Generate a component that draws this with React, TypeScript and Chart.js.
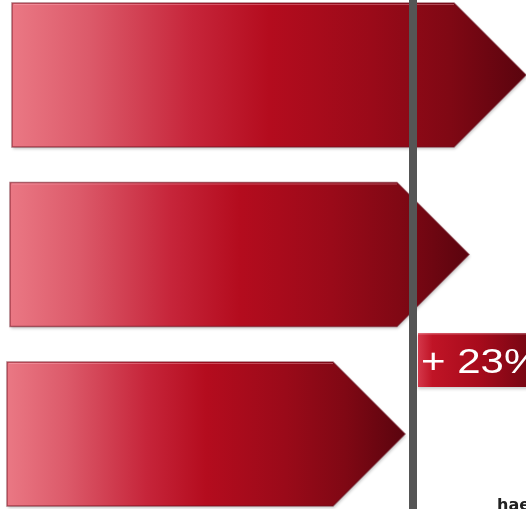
import React, { useEffect, useRef } from "react";
import { Chart, registerables } from "chart.js";

Chart.register(...registerables);

// ---- data ----
const categories = ["A", "B", "C"];
const barStarts = [12, 10, 7];
const barEnds = [526, 469, 405];
const referenceValue = 413;
const calloutLabel = "+ 23%";
const footnote = "hae";

const W = 526;
const H = 509;

function barGradient(ctx: CanvasRenderingContext2D, x0: number, x1: number) {
  const g = ctx.createLinearGradient(x0, 0, x1, 0);
  g.addColorStop(0, "#ea7884");
  g.addColorStop(0.15, "#dc5a6a");
  g.addColorStop(0.35, "#c6253a");
  g.addColorStop(0.5, "#b40c1e");
  g.addColorStop(0.7, "#9a0a19");
  g.addColorStop(0.85, "#800814");
  g.addColorStop(1, "#5a040e");
  return g;
}

const arrowPlugin = {
  id: "arrowBars",
  beforeDatasetsDraw(chart: any) {
    const ctx: CanvasRenderingContext2D = chart.ctx;
    const meta = chart.getDatasetMeta(0);
    meta.data.forEach((el: any) => {
      const half = el.height / 2;
      const top = el.y - half;
      const bot = el.y + half;
      const left = Math.min(el.base, el.x);
      const tip = Math.max(el.base, el.x);
      const neck = tip - half;
      ctx.save();
      ctx.beginPath();
      ctx.moveTo(left, top);
      ctx.lineTo(neck, top);
      ctx.lineTo(tip, el.y);
      ctx.lineTo(neck, bot);
      ctx.lineTo(left, bot);
      ctx.closePath();
      ctx.shadowColor = "rgba(0,0,0,0.22)";
      ctx.shadowBlur = 3;
      ctx.shadowOffsetX = 1;
      ctx.shadowOffsetY = 2;
      ctx.fillStyle = barGradient(ctx, left, tip);
      ctx.fill();
      ctx.shadowColor = "transparent";
      ctx.lineWidth = 1.5;
      ctx.strokeStyle = "rgba(110,15,30,0.55)";
      ctx.stroke();
      // top highlight
      ctx.beginPath();
      ctx.moveTo(left + 2, top + 1.5);
      ctx.lineTo(neck, top + 1.5);
      ctx.strokeStyle = "rgba(255,190,200,0.35)";
      ctx.lineWidth = 1;
      ctx.stroke();
      ctx.restore();
    });
  },
  afterDatasetsDraw(chart: any) {
    const ctx: CanvasRenderingContext2D = chart.ctx;
    const xs = chart.scales.x;
    const meta = chart.getDatasetMeta(0);
    const refX = xs.getPixelForValue(referenceValue);
    ctx.save();
    // reference line
    ctx.fillStyle = "#555555";
    ctx.fillRect(refX - 4, 0, 8, chart.height);

    // callout box
    const last = meta.data[meta.data.length - 1];
    const boxTop = last.y - last.height / 2 - 29;
    const boxH = 54;
    const boxX = refX + 5;
    const g = ctx.createLinearGradient(boxX, 0, boxX + 120, 0);
    g.addColorStop(0, "#d4374a");
    g.addColorStop(0.12, "#c01426");
    g.addColorStop(0.5, "#a80b1c");
    g.addColorStop(1, "#6e0511");
    ctx.shadowColor = "rgba(0,0,0,0.2)";
    ctx.shadowBlur = 3;
    ctx.shadowOffsetY = 2;
    ctx.fillStyle = g;
    ctx.fillRect(boxX, boxTop, 130, boxH);
    ctx.shadowColor = "transparent";
    ctx.fillStyle = "rgba(255,200,210,0.35)";
    ctx.fillRect(boxX, boxTop, 130, 1.5);

    ctx.save();
    ctx.translate(boxX + 3, boxTop + 40);
    ctx.scale(1.2, 1);
    ctx.fillStyle = "#ffffff";
    ctx.font = "35px 'Liberation Sans', Arial, sans-serif";
    ctx.textBaseline = "alphabetic";
    ctx.textAlign = "left";
    ctx.fillText(calloutLabel, 0, 0);
    ctx.restore();

    // footnote
    ctx.fillStyle = "#222222";
    ctx.font = "bold 16px 'DejaVu Sans', sans-serif";
    ctx.textBaseline = "alphabetic";
    ctx.textAlign = "left";
    ctx.fillText(footnote, 497, chart.height + 1);
    ctx.restore();
  },
};

export default function App() {
  const ref = useRef<HTMLCanvasElement | null>(null);
  useEffect(() => {
    if (!ref.current) return;
    const chart = new Chart(ref.current, {
      type: "bar",
      data: {
        labels: categories,
        datasets: [
          {
            data: categories.map((_, i) => [barStarts[i], barEnds[i]]) as any,
            backgroundColor: "rgba(0,0,0,0)",
            borderWidth: 0,
            barThickness: 144,
            clip: false as any,
          },
        ],
      },
      options: {
        indexAxis: "y",
        animation: false,
        responsive: false,
        devicePixelRatio: 1,
        layout: { padding: { top: 75, bottom: 75, left: 0, right: 0 } },
        scales: {
          x: { type: "linear", min: 0, max: W, display: false },
          y: { type: "category", offset: false, display: false },
        },
        plugins: { legend: { display: false }, tooltip: { enabled: false } },
      },
      plugins: [arrowPlugin],
    });
    return () => chart.destroy();
  }, []);
  return (
    <div style={{ position: "fixed", left: 0, top: 0, width: W, height: H, background: "#ffffff" }}>
      <canvas ref={ref} width={W} height={H} style={{ display: "block" }} />
    </div>
  );
}
